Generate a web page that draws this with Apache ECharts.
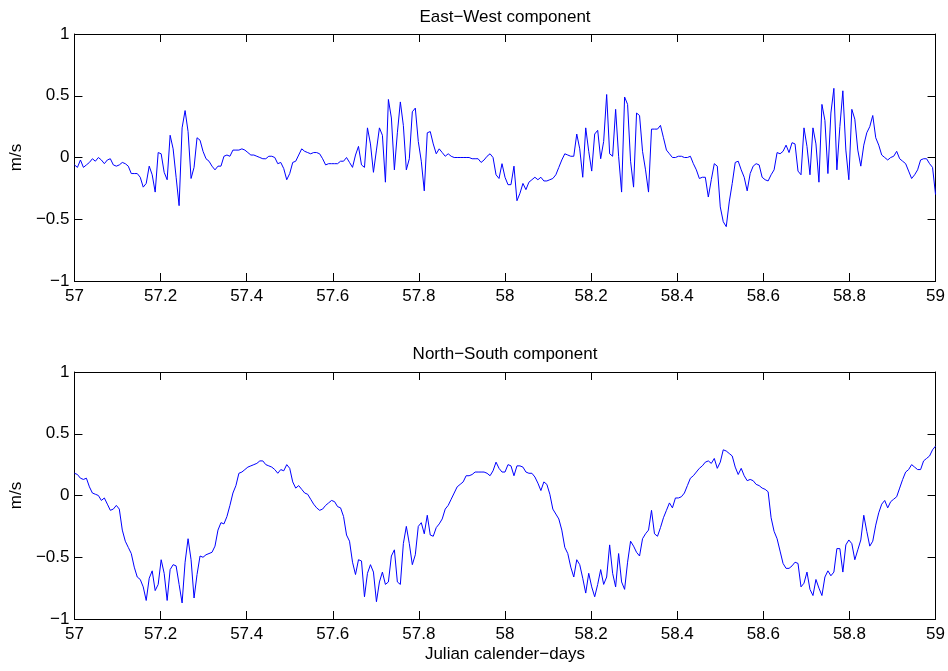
<!DOCTYPE html>
<html>
<head>
<meta charset="utf-8">
<script src="https://cdn.jsdelivr.net/npm/echarts@6/dist/echarts.min.js"></script>
<style>
  html, body { margin: 0; padding: 0; background: #fff; }
  #main { width: 948px; height: 671px; }
</style>
</head>
<body>
<div id="main"></div>
<script>
// 10-minute samples over Julian days 57 - 59
var startDay = 57;
var samplesPerDay = 144;

var ewSpeed = [
  -0.06,-0.08,-0.02,-0.08,-0.06,-0.04,-0.01,-0.03,0.00,-0.02,
  -0.05,-0.02,-0.01,-0.06,-0.07,-0.06,-0.04,-0.05,-0.07,-0.13,
  -0.13,-0.13,-0.16,-0.24,-0.21,-0.07,-0.14,-0.28,0.04,0.03,
  -0.12,-0.18,0.18,0.07,-0.16,-0.39,0.24,0.38,0.21,-0.17,
  -0.08,0.16,0.14,0.05,-0.01,-0.03,-0.07,-0.10,-0.07,-0.07,
  0.01,0.02,0.01,0.06,0.06,0.06,0.07,0.06,0.04,0.02,
  0.02,0.01,0.00,-0.01,-0.01,0.01,0.01,0.00,-0.05,-0.04,
  -0.09,-0.18,-0.13,-0.04,-0.03,0.02,0.07,0.05,0.04,0.03,
  0.04,0.04,0.03,-0.01,-0.06,-0.05,-0.05,-0.05,-0.05,-0.03,
  -0.03,0.00,-0.04,-0.08,0.02,0.09,-0.06,-0.08,0.24,0.11,
  -0.12,0.06,0.24,0.18,-0.20,0.47,0.32,-0.10,0.20,0.45,
  0.26,-0.10,-0.01,0.37,0.40,0.13,-0.03,-0.27,0.20,0.21,
  0.11,0.03,0.07,0.04,0.01,0.03,0.01,0.00,0.00,0.00,
  0.00,0.00,0.00,-0.01,-0.01,-0.01,-0.04,-0.02,0.01,0.03,
  0.00,-0.14,-0.17,-0.05,-0.16,-0.22,-0.22,-0.07,-0.35,-0.29,
  -0.21,-0.26,-0.20,-0.18,-0.16,-0.18,-0.16,-0.19,-0.19,-0.18,
  -0.17,-0.14,-0.08,-0.02,0.03,0.02,0.01,0.01,0.19,0.07,
  -0.16,0.24,0.05,-0.11,0.19,0.22,-0.01,0.13,0.51,0.03,
  0.01,0.39,0.01,-0.28,0.49,0.43,-0.03,-0.24,0.36,0.34,
  0.05,-0.10,-0.28,0.23,0.23,0.23,0.26,0.16,0.06,0.03,
  0.00,0.00,0.01,0.01,0.00,0.00,0.01,-0.05,-0.10,-0.17,
  -0.16,-0.16,-0.32,-0.18,-0.05,-0.07,-0.40,-0.52,-0.56,-0.36,
  -0.21,-0.04,-0.03,-0.10,-0.16,-0.27,-0.13,-0.07,-0.05,-0.06,
  -0.16,-0.18,-0.19,-0.14,-0.10,0.04,0.03,0.05,0.10,0.04,
  0.12,0.11,-0.11,-0.14,0.24,0.09,-0.14,0.24,0.11,-0.20,
  0.43,0.30,-0.13,0.36,0.56,-0.10,0.25,0.54,0.06,-0.18,
  0.39,0.31,0.06,-0.07,0.10,0.20,0.25,0.34,0.16,0.10,
  0.02,0.00,-0.02,0.00,0.01,0.05,-0.01,-0.03,-0.05,-0.11,
  -0.17,-0.14,-0.10,-0.02,-0.01,-0.01,-0.05,-0.08,-0.30
];

var nsSpeed = [
  0.18,0.17,0.14,0.13,0.14,0.07,0.02,0.01,0.00,-0.04,
  -0.02,-0.07,-0.12,-0.11,-0.08,-0.11,-0.28,-0.37,-0.42,-0.47,
  -0.58,-0.66,-0.68,-0.74,-0.85,-0.67,-0.61,-0.77,-0.72,-0.52,
  -0.63,-0.85,-0.60,-0.56,-0.57,-0.72,-0.87,-0.54,-0.35,-0.52,
  -0.83,-0.64,-0.49,-0.50,-0.48,-0.47,-0.46,-0.41,-0.28,-0.22,
  -0.23,-0.17,-0.08,0.02,0.08,0.18,0.19,0.21,0.23,0.24,
  0.25,0.26,0.28,0.28,0.25,0.24,0.23,0.21,0.18,0.21,
  0.20,0.25,0.22,0.11,0.06,0.08,0.05,0.02,0.01,-0.03,
  -0.07,-0.10,-0.12,-0.11,-0.08,-0.06,-0.04,-0.05,-0.09,-0.10,
  -0.17,-0.32,-0.37,-0.54,-0.64,-0.52,-0.53,-0.82,-0.63,-0.56,
  -0.62,-0.86,-0.70,-0.62,-0.72,-0.70,-0.49,-0.44,-0.70,-0.72,
  -0.39,-0.25,-0.39,-0.56,-0.48,-0.25,-0.22,-0.31,-0.16,-0.32,
  -0.33,-0.26,-0.23,-0.19,-0.11,-0.08,-0.03,0.02,0.07,0.09,
  0.11,0.16,0.16,0.17,0.19,0.19,0.19,0.19,0.18,0.16,
  0.20,0.27,0.22,0.19,0.19,0.25,0.24,0.16,0.24,0.24,
  0.23,0.19,0.18,0.18,0.15,0.10,0.04,0.11,0.09,0.01,
  -0.11,-0.15,-0.19,-0.28,-0.42,-0.47,-0.58,-0.66,-0.52,-0.56,
  -0.67,-0.79,-0.63,-0.74,-0.82,-0.72,-0.60,-0.72,-0.66,-0.40,
  -0.63,-0.74,-0.47,-0.70,-0.76,-0.54,-0.37,-0.41,-0.46,-0.49,
  -0.35,-0.31,-0.28,-0.12,-0.31,-0.33,-0.26,-0.18,-0.12,-0.06,
  -0.10,-0.02,-0.02,-0.01,0.02,0.08,0.14,0.16,0.19,0.22,
  0.24,0.27,0.28,0.26,0.30,0.22,0.27,0.37,0.36,0.34,
  0.32,0.23,0.17,0.22,0.16,0.12,0.13,0.12,0.09,0.08,
  0.06,0.05,0.03,-0.18,-0.29,-0.35,-0.45,-0.55,-0.59,-0.59,
  -0.57,-0.54,-0.55,-0.74,-0.71,-0.62,-0.76,-0.81,-0.68,-0.75,
  -0.81,-0.66,-0.61,-0.65,-0.62,-0.43,-0.43,-0.62,-0.40,-0.36,
  -0.39,-0.52,-0.44,-0.36,-0.16,-0.29,-0.41,-0.37,-0.24,-0.14,
  -0.07,-0.04,-0.10,-0.05,-0.03,-0.01,0.06,0.13,0.19,0.21,
  0.25,0.23,0.21,0.21,0.28,0.30,0.32,0.37,0.40
];

var titles = ['East\u2212West component', 'North\u2212South component'];
var xName = 'Julian calender\u2212days';
var yName = 'm/s';

var FONT = '"Liberation Sans", Arial, Helvetica, sans-serif';

function toPairs(arr) {
  return arr.map(function (v, i) {
    return [startDay + i / samplesPerDay, v];
  });
}

function minusFmt(v) {
  var r = Math.round(v * 10) / 10;
  return r < 0 ? '\u2212' + String(-r) : String(r);
}

function xAxisFor(grid, pos, labels) {
  return {
    gridIndex: grid,
    type: 'value',
    position: pos,
    min: 57,
    max: 59,
    interval: 0.2,
    axisLine: { show: true, onZero: false, lineStyle: { color: '#000', width: 1 } },
    axisTick: { show: true, inside: true, length: 8, lineStyle: { color: '#000' } },
    axisLabel: {
      show: labels,
      color: '#000',
      fontSize: 17,
      fontFamily: FONT,
      margin: 7,
      showMinLabel: true,
      showMaxLabel: true,
      formatter: minusFmt
    },
    splitLine: { show: false }
  };
}

function yAxisFor(grid, pos, labels) {
  var ax = {
    gridIndex: grid,
    type: 'value',
    position: pos,
    min: -1,
    max: 1,
    interval: 0.5,
    axisLine: { show: true, onZero: false, lineStyle: { color: '#000', width: 1 } },
    axisTick: { show: true, inside: true, length: 8, lineStyle: { color: '#000' } },
    axisLabel: {
      show: labels,
      color: '#000',
      fontSize: 17,
      fontFamily: FONT,
      margin: 5,
      formatter: minusFmt
    },
    splitLine: { show: false }
  };
  if (labels) {
    ax.name = yName;
    ax.nameLocation = 'middle';
    ax.nameRotate = 90;
    ax.nameGap = 46;
    ax.nameTextStyle = { color: '#000', fontSize: 17, fontFamily: FONT };
  }
  return ax;
}

var chart = echarts.init(document.getElementById('main'), null, { renderer: 'canvas' });

var xAxes = [
  xAxisFor(0, 'bottom', true),
  xAxisFor(0, 'top', false),
  xAxisFor(1, 'bottom', true),
  xAxisFor(1, 'top', false)
];
xAxes[2].name = xName;
xAxes[2].nameLocation = 'middle';
xAxes[2].nameGap = 27;
xAxes[2].nameTextStyle = { color: '#000', fontSize: 17, fontFamily: FONT };

chart.setOption({
  animation: false,
  backgroundColor: '#fff',
  grid: [
    { left: 73, top: 34, width: 864, height: 247, containLabel: false },
    { left: 73, top: 372, width: 864, height: 247, containLabel: false }
  ],
  graphic: [
    {
      type: 'text', x: 505, y: 17,
      style: { text: titles[0], fill: '#000', font: '17px ' + FONT, textAlign: 'center', textVerticalAlign: 'middle' }
    },
    {
      type: 'text', x: 505, y: 354,
      style: { text: titles[1], fill: '#000', font: '17px ' + FONT, textAlign: 'center', textVerticalAlign: 'middle' }
    }
  ],
  xAxis: xAxes,
  yAxis: [
    yAxisFor(0, 'left', true),
    yAxisFor(0, 'right', false),
    yAxisFor(1, 'left', true),
    yAxisFor(1, 'right', false)
  ],
  series: [
    {
      name: titles[0],
      type: 'line',
      xAxisIndex: 0,
      yAxisIndex: 0,
      data: toPairs(ewSpeed),
      showSymbol: false,
      lineStyle: { color: '#0000ff', width: 1 },
      itemStyle: { color: '#0000ff' }
    },
    {
      name: titles[1],
      type: 'line',
      xAxisIndex: 2,
      yAxisIndex: 2,
      data: toPairs(nsSpeed),
      showSymbol: false,
      lineStyle: { color: '#0000ff', width: 1 },
      itemStyle: { color: '#0000ff' }
    }
  ]
});
</script>
</body>
</html>
